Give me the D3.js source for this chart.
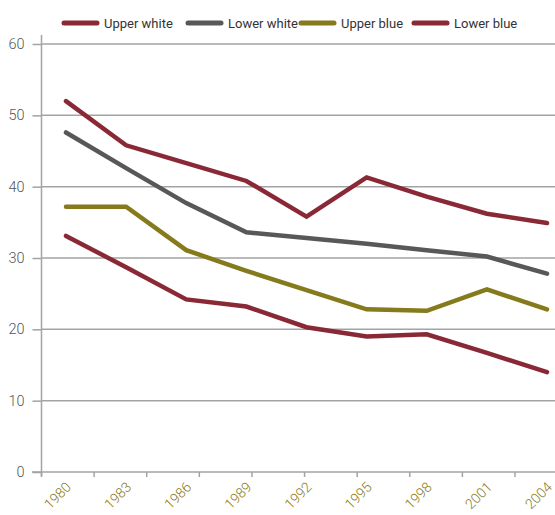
<!DOCTYPE html>
<html>
<head>
<meta charset="utf-8">
<script src="https://cdn.jsdelivr.net/npm/d3@7"></script>
<style>
  body { margin: 0; background: #fff; }
  svg { display: block; font-family: Roboto, "DejaVu Sans", sans-serif; }
</style>
</head>
<body>
<div id="chart"></div>
<script>
var w = 555,
    h = 515;

var years = ['1980', '1983', '1986', '1989', '1992', '1995', '1998', '2001', '2004'];
var upperWhite = [52, 45.8, 43.3, 40.8, 35.8, 41.3, 38.6, 36.2, 34.9];
var lowerWhite = [47.6, 42.6, 37.7, 33.6, 32.8, 32.0, 31.1, 30.2, 27.8];
var upperBlue = [37.2, 37.2, 31.1, 28.2, 25.5, 22.8, 22.6, 25.6, 22.8];
var lowerBlue = [33.1, 28.7, 24.2, 23.2, 20.3, 19.0, 19.3, 16.7, 14.0];
var seriesNames = ['Upper white', 'Lower white', 'Upper blue', 'Lower blue'];
var yTicks = [0, 10, 20, 30, 40, 50, 60];

var palette = {
    red: '#8a2936',
    grey: '#58585a',
    olive: '#857a1c',
    grid: '#a3a3a3',
    text: '#555555'
};

var series = [
    { name: seriesNames[0], values: upperWhite, color: palette.red },
    { name: seriesNames[1], values: lowerWhite, color: palette.grey },
    { name: seriesNames[2], values: upperBlue, color: palette.olive },
    { name: seriesNames[3], values: lowerBlue, color: palette.red }
];

var svg = d3.select('#chart')
    .append('svg')
    .attr('width', w)
    .attr('height', h);

var x = d3.scalePoint().domain(years).range([66, 547]);
var y = d3.scaleLinear().domain([0, 60]).range([472, 44]);
// tick marks along the bottom do not line up with the categories
var tickPos = d3.scaleLinear().domain([0, 9]).range([41.5, 515]);

// gridlines
svg.append('g')
    .selectAll('line')
    .data(yTicks.filter(function(d) { return d > 0; }))
    .enter().append('line')
    .attr('x1', 41.5)
    .attr('x2', w)
    .attr('y1', function(d) { return y(d); })
    .attr('y2', function(d) { return y(d); })
    .attr('stroke', palette.grid)
    .attr('stroke-width', 1.5);

// y axis
var yAxis = svg.append('g')
    .attr('transform', 'translate(41.5,0)')
    .call(d3.axisLeft(y).tickValues(yTicks).tickSize(9).tickPadding(8));
yAxis.select('.domain')
    .attr('d', 'M0,' + (y(60) - 9) + 'V' + (y(0) + 4));
yAxis.selectAll('line, .domain')
    .attr('stroke', palette.grid)
    .attr('stroke-width', 1.5);
yAxis.selectAll('text')
    .attr('fill', palette.text)
    .attr('font-size', 14.5)
    .attr('font-weight', 300)
    .attr('font-family', 'Roboto, sans-serif');

// x axis line and tick marks
svg.append('line')
    .attr('x1', 32)
    .attr('x2', w)
    .attr('y1', y(0))
    .attr('y2', y(0))
    .attr('stroke', palette.grid)
    .attr('stroke-width', 1.5);

svg.append('g')
    .selectAll('line')
    .data(d3.range(10))
    .enter().append('line')
    .attr('x1', function(d) { return tickPos(d); })
    .attr('x2', function(d) { return tickPos(d); })
    .attr('y1', y(0))
    .attr('y2', y(0) + 5)
    .attr('stroke', palette.grid)
    .attr('stroke-width', 1.5);

svg.append('g')
    .selectAll('text')
    .data(years)
    .enter().append('text')
    .text(function(d) { return d; })
    .attr('transform', function(d) {
        return 'translate(' + (x(d) + 6) + ',' + (y(0) + 16) + ') rotate(-45)';
    })
    .attr('text-anchor', 'end')
    .attr('font-size', 14)
    .attr('font-weight', 300)
    .attr('fill', palette.olive);

// lines
var line = d3.line()
    .x(function(d, i) { return x(years[i]); })
    .y(function(d) { return y(d); });

svg.append('g')
    .selectAll('path')
    .data(series)
    .enter().append('path')
    .attr('d', function(d) { return line(d.values); })
    .attr('fill', 'none')
    .attr('stroke', function(d) { return d.color; })
    .attr('stroke-width', 4.5)
    .attr('stroke-linecap', 'round')
    .attr('stroke-linejoin', 'miter');

// legend
var legendX = [64, 188, 301, 414];
var legend = svg.append('g')
    .selectAll('g')
    .data(series)
    .enter().append('g')
    .attr('transform', function(d, i) { return 'translate(' + legendX[i] + ',23)'; });

legend.append('line')
    .attr('x1', 0)
    .attr('x2', 33)
    .attr('stroke', function(d) { return d.color; })
    .attr('stroke-width', 5)
    .attr('stroke-linecap', 'round');

legend.append('text')
    .text(function(d) { return d.name; })
    .attr('x', 40)
    .attr('y', 4.5)
    .attr('font-size', 13)
    .attr('fill', '#333');
</script>
</body>
</html>
